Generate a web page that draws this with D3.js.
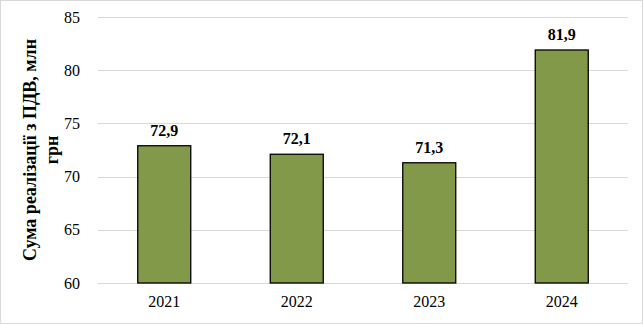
<!DOCTYPE html>
<html>
<head>
<meta charset="utf-8">
<script src="https://cdn.jsdelivr.net/npm/d3@7"></script>
<style>
  html, body { margin: 0; padding: 0; background: #fff; }
  svg { display: block; }
</style>
</head>
<body>
<svg id="chart" width="643" height="324"></svg>
<script>
// Revenue by year, million UAH (incl. VAT)
const years = ["2021", "2022", "2023", "2024"];
const values = [72.9, 72.1, 71.3, 81.9];
const yTicks = [60, 65, 70, 75, 80, 85];
const axisTitleLines = ["Сума реалізації з ПДВ, млн", "грн"];

const W = 643, H = 324;
const margin = { left: 98, right: 15, top: 17, bottom: 41 };
const svg = d3.select("#chart");
const font = "'Liberation Serif', 'Times New Roman', serif";

// outer frame
svg.append("rect")
  .attr("x", 0.5).attr("y", 0.5)
  .attr("width", W - 1).attr("height", H - 1)
  .attr("fill", "#fff").attr("stroke", "#d9d9d9").attr("stroke-width", 1);

const x = d3.scaleBand()
  .domain(years)
  .range([margin.left, W - margin.right])
  .paddingInner(0.6).paddingOuter(0.3);

const y = d3.scaleLinear()
  .domain([60, 85])
  .range([H - margin.bottom, margin.top]);

// horizontal gridlines
svg.append("g")
  .selectAll("line")
  .data(yTicks)
  .join("line")
  .attr("x1", margin.left).attr("x2", W - margin.right)
  .attr("y1", d => Math.round(y(d)) + 0.5).attr("y2", d => Math.round(y(d)) + 0.5)
  .attr("stroke", "#d9d9d9").attr("stroke-width", 1);

// y axis labels
const yAxis = d3.axisLeft(y).tickValues(yTicks).tickSize(0).tickPadding(18)
  .tickFormat(d3.format("d"));
svg.append("g")
  .attr("transform", `translate(${margin.left},0)`)
  .call(yAxis)
  .call(g => g.select(".domain").remove())
  .call(g => g.selectAll("text")
    .attr("font-family", font).attr("font-size", 16).attr("fill", "#000"));

// x axis labels
const xAxis = d3.axisBottom(x).tickSize(0).tickPadding(13);
svg.append("g")
  .attr("transform", `translate(0,${H - margin.bottom})`)
  .call(xAxis)
  .call(g => g.select(".domain").remove())
  .call(g => g.selectAll("text")
    .attr("font-family", font).attr("font-size", 16).attr("fill", "#000"));

// bars
svg.append("g")
  .selectAll("rect")
  .data(values)
  .join("rect")
  .attr("x", (d, i) => x(years[i]))
  .attr("y", d => y(d))
  .attr("width", x.bandwidth())
  .attr("height", d => y(60) - y(d))
  .attr("fill", "#82994A")
  .attr("stroke", "#000").attr("stroke-width", 1.3);

// value labels
svg.append("g")
  .selectAll("text")
  .data(values)
  .join("text")
  .attr("x", (d, i) => x(years[i]) + x.bandwidth() / 2)
  .attr("y", d => y(d) - 10)
  .attr("text-anchor", "middle")
  .attr("font-family", font).attr("font-size", 16).attr("font-weight", "bold")
  .attr("fill", "#000")
  .text(d => d3.format(".1f")(d).replace(".", ","));

// rotated axis title
const titleCy = (margin.top + H - margin.bottom) / 2 + 0;
const title = svg.append("text")
  .attr("transform", `translate(41,${titleCy}) rotate(-90)`)
  .attr("text-anchor", "middle")
  .attr("font-family", font).attr("font-size", 18).attr("font-weight", "bold")
  .attr("fill", "#000");
axisTitleLines.forEach((line, i) => {
  title.append("tspan")
    .attr("x", 0)
    .attr("y", (i - (axisTitleLines.length - 1) / 2) * 22 + 6)
    .text(line);
});
</script>
</body>
</html>
